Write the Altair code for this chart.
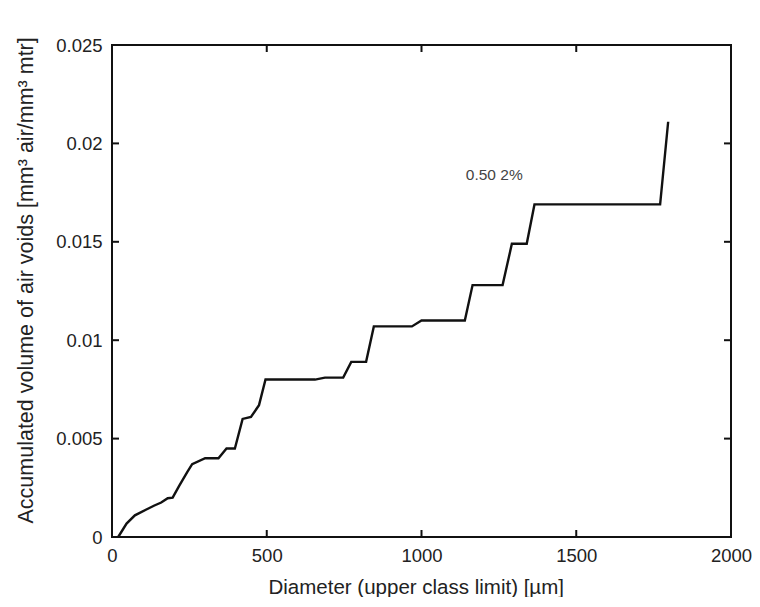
import altair as alt
import pandas as pd

# Curve: diameter (upper class limit, µm) vs accumulated air-void volume
diameter = [20, 47, 74, 111, 137, 159, 180, 196, 217, 243, 259, 301, 344, 370, 397,
            422, 449, 475, 496, 656, 688, 747, 773, 821, 846, 969, 1000, 1140, 1165,
            1262, 1292, 1340, 1365, 1771, 1797]
volume = [0.0, 0.00068, 0.0011, 0.0014, 0.0016, 0.00175, 0.00197, 0.0020, 0.0026,
          0.0033, 0.0037, 0.0040, 0.0040, 0.0045, 0.0045, 0.0060, 0.0061, 0.0067,
          0.0080, 0.0080, 0.0081, 0.0081, 0.0089, 0.0089, 0.0107, 0.0107, 0.0110,
          0.0110, 0.0128, 0.0128, 0.0149, 0.0149, 0.0169, 0.0169, 0.0211]

x_ticks = [0, 500, 1000, 1500, 2000]
y_ticks = [0, 0.005, 0.01, 0.015, 0.02, 0.025]

annot_text = ["0.50 2%"]
annot_x = [1235]
annot_y = [0.0184]

W, H = 619, 492
FONT = "Liberation Sans"
TXT = "#222222"
LINE = "#111111"

curve = pd.DataFrame({"d": diameter, "v": volume})
xt = pd.DataFrame({"d": x_ticks[1:-1]})
yt = pd.DataFrame({"v": y_ticks[1:-1]})
ann = pd.DataFrame({"d": annot_x, "v": annot_y, "t": annot_text})

xscale = alt.Scale(domain=[0, 2000], nice=False, zero=False)
yscale = alt.Scale(domain=[0, 0.025], nice=False, zero=False)

xaxis = alt.Axis(values=x_ticks, format="d", title="Diameter (upper class limit) [µm]",
                 grid=False, ticks=False, tickSize=0, domain=False,
                 labelFont=FONT, labelFontSize=18.5, labelColor=TXT, labelPadding=9,
                 labelFlush=False,
                 titleFont=FONT, titleFontSize=20.5, titleFontWeight="normal",
                 titleColor=TXT, titleAlign="left", titleAnchor="start",
                 titleX=156, titleY=56, titleBaseline="alphabetic")
yaxis = alt.Axis(values=y_ticks, format="~g",
                 title="Accumulated volume of air voids [mm³ air/mm³ mtr]",
                 grid=False, ticks=False, tickSize=0, domain=False,
                 labelFont=FONT, labelFontSize=18.5, labelColor=TXT, labelPadding=10,
                 labelFlush=False,
                 titleFont=FONT, titleFontSize=21.5, titleFontWeight="normal",
                 titleColor=TXT, titleAngle=-90, titleAlign="left",
                 titleAnchor="start", titleX=-80, titleY=478,
                 titleBaseline="alphabetic")

X = alt.X("d:Q", scale=xscale, axis=xaxis)
Y = alt.Y("v:Q", scale=yscale, axis=yaxis)

line = alt.Chart(curve).mark_line(color=LINE, strokeWidth=2.4).encode(x=X, y=Y)

bottom_ticks = alt.Chart(xt).mark_rule(color=LINE, strokeWidth=2).encode(
    x=X, y=alt.value(H), y2=alt.value(H - 7))
top_ticks = alt.Chart(xt).mark_rule(color=LINE, strokeWidth=2).encode(
    x=X, y=alt.value(0), y2=alt.value(7))
left_ticks = alt.Chart(yt).mark_rule(color=LINE, strokeWidth=2).encode(
    y=Y, x=alt.value(0), x2=alt.value(7))
right_ticks = alt.Chart(yt).mark_rule(color=LINE, strokeWidth=2).encode(
    y=Y, x=alt.value(W), x2=alt.value(W - 7))

label = alt.Chart(ann).mark_text(font=FONT, fontSize=15.5, color="#444444",
                                 align="center", baseline="middle").encode(
    x=X, y=Y, text="t:N")

chart = alt.layer(line, bottom_ticks, top_ticks, left_ticks, right_ticks, label).properties(
    width=W, height=H,
    autosize=alt.AutoSizeParams(type="none"),
    padding={"left": 104, "top": 37, "right": 21, "bottom": 60},
    background="white",
).configure_view(stroke=LINE, strokeWidth=2)

chart.save("out.html", embed_options={"renderer": "svg", "actions": False})
